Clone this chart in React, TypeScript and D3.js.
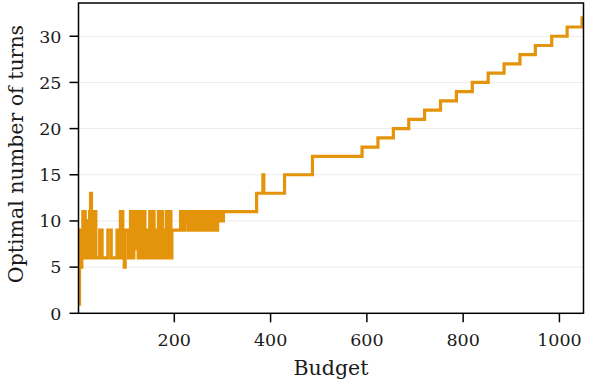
import React from "react";
import * as d3 from "d3";

// Step breakpoints: budget at which the optimal number of turns changes, and the new value
const budgets = [
  1, 3, 5, 6, 8, 9, 10, 12, 13, 15, 16, 18, 19, 20, 22, 23, 24, 26, 28, 29, 30, 33, 34, 37,
  45, 50, 62, 69, 81, 86, 88, 93, 96, 98, 105,
  109, 112, 116, 118, 123, 125, 130, 132, 137, 139, 143, 145, 149, 151, 156, 158, 162, 164,
  167, 169, 174, 176, 180, 182, 184, 186, 191, 193, 195,
  213, 215, 217, 219, 221, 223, 225, 228, 230, 233, 235, 237, 240, 242, 244, 246, 248, 250,
  252, 254, 257, 259, 261, 263, 265, 267, 270, 272, 274, 276, 279, 281, 283, 286, 288, 290,
  292, 294, 296, 298, 300, 302,
  371, 384, 386, 429, 487, 590, 623, 655, 687, 720, 753, 786, 819, 852, 885, 918, 950, 984,
  1016, 1047, 1050,
];
const turns = [
  1, 5, 9, 5, 8, 6, 11, 6, 11, 6, 10, 6, 9, 6, 10, 6, 11, 13, 11, 6, 11, 6, 11, 6,
  9, 6, 9, 6, 9, 6, 11, 6, 5, 9, 6,
  11, 6, 11, 7, 11, 6, 11, 6, 11, 6, 9, 6, 11, 6, 11, 6, 9, 6,
  11, 6, 11, 6, 9, 6, 11, 6, 11, 6, 9,
  11, 9, 11, 9, 11, 10, 11, 9, 11, 9, 11, 9, 11, 9, 10, 9, 11, 9,
  11, 9, 11, 9, 10, 9, 11, 9, 11, 9, 11, 9, 10, 11, 9, 11, 9, 11,
  10, 11, 10, 11, 10, 11,
  13, 15, 13, 15, 17, 18, 19, 20, 21, 22, 23, 24, 25, 26, 27, 28, 29, 30,
  31, 32, 32,
];

const yTicks = [0, 5, 10, 15, 20, 25, 30];
const xTicks = [200, 400, 600, 800, 1000];
const xDomain = [1, 1050];
const yDomain = [0, 33.6];

const FONT = "'DejaVu Serif', serif";
const LINE_COLOR = "#E3940A";

export default function App() {
  const W = 595;
  const H = 383;
  const left = 78.5;
  const right = 583.5;
  const top = 3;
  const bottom = 313.3;

  const x = d3.scaleLinear().domain(xDomain).range([left, right]);
  const y = d3.scaleLinear().domain(yDomain).range([bottom, top]);

  const pts: [number, number][] = budgets.map((b, i) => [b, turns[i]]);
  const line = d3
    .line<[number, number]>()
    .x((d) => x(d[0]))
    .y((d) => y(d[1]))
    .curve(d3.curveStepAfter);

  const tickLen = 9;

  return (
    <svg
      width={W}
      height={H}
      style={{ position: "fixed", left: 0, top: 0, display: "block", background: "#fff" }}
    >
      <defs>
        <clipPath id="plot">
          <rect x={left} y={top} width={right - left} height={bottom - top} />
        </clipPath>
      </defs>
      {/* grid */}
      {yTicks.map((t) => (
        <line key={"g" + t} x1={left} x2={right} y1={y(t)} y2={y(t)} stroke="#ebebeb" strokeWidth={1} />
      ))}
      {/* data line */}
      <path
        d={line(pts) || ""}
        fill="none"
        stroke={LINE_COLOR}
        strokeWidth={3.2}
        strokeLinejoin="miter"
        clipPath="url(#plot)"
      />
      {/* frame */}
      <rect x={left} y={top} width={right - left} height={bottom - top} fill="none" stroke="#000" strokeWidth={1.5} />
      {/* y ticks */}
      {yTicks.map((t) => (
        <g key={"y" + t}>
          <line x1={left - tickLen} x2={left} y1={y(t)} y2={y(t)} stroke="#000" strokeWidth={1.5} />
          <text x={left - tickLen - 8} y={y(t) + 6.3} textAnchor="end" fontFamily={FONT} fontSize={17.5} fill="#1a1a1a">
            {t}
          </text>
        </g>
      ))}
      {/* x ticks */}
      {xTicks.map((t) => (
        <g key={"x" + t}>
          <line x1={x(t)} x2={x(t)} y1={bottom} y2={bottom + tickLen} stroke="#000" strokeWidth={1.5} />
          <text x={x(t)} y={345.5} textAnchor="middle" fontFamily={FONT} fontSize={17.5} fill="#1a1a1a">
            {t}
          </text>
        </g>
      ))}
      <text x={(left + right) / 2} y={375} textAnchor="middle" fontFamily={FONT} fontSize={20.5} fill="#1a1a1a">
        Budget
      </text>
      <text
        transform={`translate(23, 154) rotate(-90)`}
        textAnchor="middle"
        fontFamily={FONT}
        fontSize={20.5}
        fill="#1a1a1a"
      >
        Optimal number of turns
      </text>
    </svg>
  );
}
